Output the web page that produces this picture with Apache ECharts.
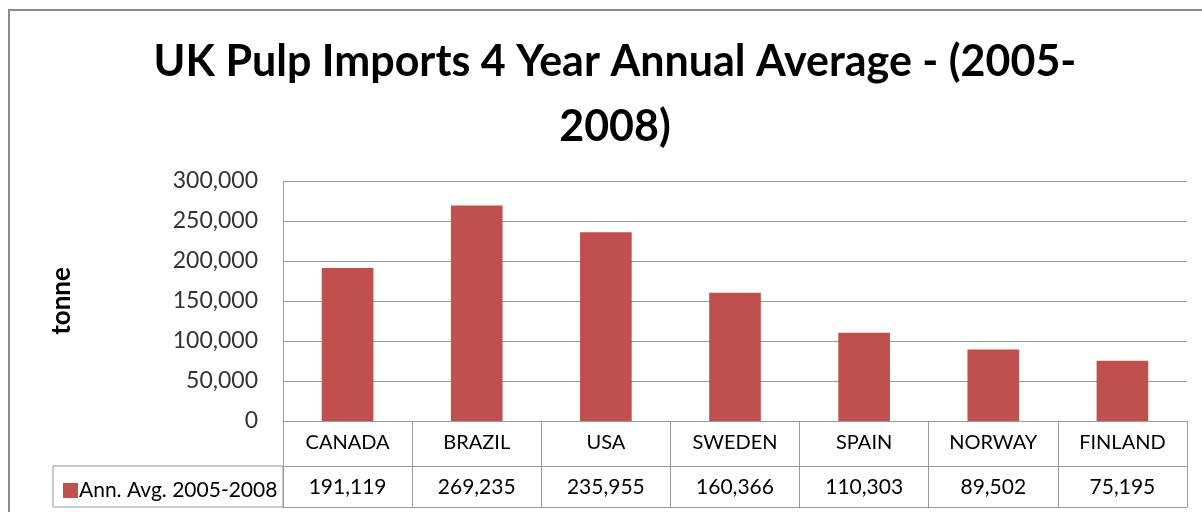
<!DOCTYPE html>
<html>
<head>
<meta charset="utf-8">
<script src="https://cdn.jsdelivr.net/npm/echarts@6/dist/echarts.min.js"></script>
<style>
html,body{margin:0;padding:0;background:#fff;}
#c{width:1202px;height:512px;}
</style>
</head>
<body>
<div id="c"></div>
<script>
const titleText = 'UK Pulp Imports 4 Year Annual Average - (2005-\n2008)';
const categories = ['CANADA', 'BRAZIL', 'USA', 'SWEDEN', 'SPAIN', 'NORWAY', 'FINLAND'];
const seriesName = 'Ann. Avg. 2005-2008';
const values = [191119, 269235, 235955, 160366, 110303, 89502, 75195];
const yAxisName = 'tonne';

const fmt = v => v.toLocaleString('en-US');
const LINE = '#9a9a9a';
const FONT = "Lato, sans-serif";

const chart = echarts.init(document.getElementById('c'));
chart.setOption({
  animation: false,
  backgroundColor: '#fff',
  title: {
    text: titleText,
    left: 615,
    textAlign: 'center',
    top: 30,
    padding: 0,
    textStyle: { fontFamily: FONT, fontWeight: 'bold', fontSize: 43, lineHeight: 65, color: '#000' }
  },
  legend: {
    left: 58, top: 475,
    icon: 'rect', itemWidth: 15, itemHeight: 15,
    data: [seriesName],
    textStyle: { fontFamily: FONT, fontSize: 21, color: '#000', padding: [0, 0, 0, -4] }
  },
  grid: { left: 283, right: 15, top: 181, bottom: 91 },
  xAxis: [
    {
      type: 'category', data: categories, position: 'bottom',
      axisLine: { lineStyle: { color: LINE, width: 1 } },
      axisTick: { show: true, length: 86, lineStyle: { color: LINE } },
      axisLabel: { margin: 12, fontFamily: FONT, fontSize: 20, color: '#000' }
    },
    {
      type: 'category', data: categories, position: 'bottom', offset: 45,
      axisLine: { lineStyle: { color: LINE, width: 1 } },
      axisTick: { show: false },
      axisLabel: { margin: 11, fontFamily: FONT, fontSize: 21, color: '#000',
        formatter: (v, i) => fmt(values[i]) }
    },
    {
      type: 'category', data: categories, position: 'bottom', offset: 86,
      axisLine: { lineStyle: { color: LINE, width: 1 } },
      axisTick: { show: false }, axisLabel: { show: false }
    }
  ],
  yAxis: {
    type: 'value', min: 0, max: 300000, interval: 50000,
    name: yAxisName, nameLocation: 'middle', nameRotate: 90, nameGap: 208,
    nameTextStyle: { fontFamily: FONT, fontWeight: 'bold', fontSize: 26, color: '#000' },
    axisLine: { show: true, lineStyle: { color: LINE } },
    axisTick: { show: false },
    axisLabel: { margin: 25, fontFamily: FONT, fontSize: 23, color: '#333', formatter: v => fmt(v) },
    splitLine: { lineStyle: { color: LINE, width: 1 } }
  },
  series: [{
    name: seriesName, type: 'bar', data: values, barWidth: '40%',
    itemStyle: { color: '#C0504D' }
  }],
  graphic: [
    { type: 'rect', shape: { x: 53, y: 466, width: 230, height: 41 },
      style: { fill: 'none', stroke: LINE, lineWidth: 1 }, z: 10 },
    { type: 'rect', shape: { x: 9, y: 10, width: 1300, height: 600 },
      style: { fill: 'none', stroke: '#8c8c8c', lineWidth: 2 }, z: 10 }
  ]
});
</script>
</body>
</html>
